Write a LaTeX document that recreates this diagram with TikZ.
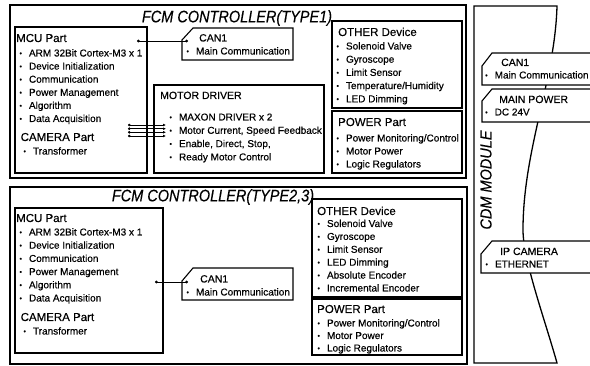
\documentclass[tikz,border=0pt]{standalone}
\usepackage{fontspec}
\setmainfont{Liberation Sans}[FakeBold=0.35]
\usetikzlibrary{arrows.meta,fit}
\newcommand\bu{\makebox[9.5pt][l]{\fontsize{7}{7}\selectfont\raisebox{0.8pt}{•}}}
\newcommand\mylist[5]{\foreach \t [count=\i] in {#5} {\node[itm] (#1\i) at (#2,{#3+#4*(\i-1)}) {\bu\t};}}
\begin{document}
\begin{tikzpicture}[x=1pt,y=-1pt,
  box/.style={draw=black,line width=1.3pt,inner sep=0pt},
  tagbox/.style={draw=black,line width=1.1pt,fill=white,line join=miter},
  itm/.style={anchor=base west,inner sep=0pt,font=\fontsize{10}{12}\selectfont},
  hd/.style={anchor=base west,inner sep=0pt,font=\fontsize{11.5}{13}\selectfont},
  thd/.style={anchor=base west,inner sep=0pt,font=\fontsize{10.5}{12}\selectfont},
  ttl/.style={inner sep=0pt,font=\fontsize{14.5}{16}\selectfont\itshape},
  conn/.style={line width=0.7pt,{Circle[length=2.8pt]}-{Circle[length=2.8pt]}},
  bus/.style={line width=0.7pt,{Circle[length=2.6pt]}-{Latex[length=3pt,width=2.8pt]}}]
\useasboundingbox[fill=white] (0,0) rectangle (590,366);

% ---------- TYPE 1 ----------
\node[box,fit={(10,5) (466,178)}] (outA) {};
\node[ttl] (ttlA) at (237,18) {\scalebox{1}[1.15]{FCM CONTROLLER(TYPE1)}};

\node[box,fit={(15,27) (147,173)}] (mcuA) {};
\node[hd] (mcuAh) at (16,42) {MCU Part};
\mylist{mcuAi}{19.3}{56.5}{13.1}{ARM 32Bit Cortex-M3 x 1, Device Initialization, Communication, Power Management, Algorithm, Data Acquisition}
\node[hd] (camAh) at (20.5,141) {CAMERA Part};
\node[itm] (camAi) at (23.3,154.5) {\bu Transformer};

\draw[tagbox] (182,60) -- (182,40) -- (193,28) -- (293,28) -- (293,60) -- cycle;
\node[thd] (canAh) at (199,41.5) {CAN1};
\node[itm] (canAi) at (186.3,54.5) {\bu Main Communication};
\coordinate (a1) at (137,41);
\coordinate (a2) at (188,41);
\draw[conn] (a2) -- (a1);

\node[box,fit={(154,85) (324,173)}] (motA) {};
\node[thd] (motAh) at (160,99) {MOTOR DRIVER};
\mylist{motAi}{169.3}{120.5}{13.3}{MAXON DRIVER x 2, {Motor Current, Speed Feedback}, {Enable, Direct, Stop,}, Ready Motor Control}
\foreach \yy [count=\k] in {125,128.7,132.3,136} {
  \coordinate (bl\k) at (128,\yy);
  \coordinate (br\k) at (166,\yy);
  \draw[bus] (bl\k) -- (br\k);
}

\node[box,fit={(332,21) (462,108)}] (othA) {};
\node[hd] (othAh) at (338,36) {OTHER Device};
\mylist{othAi}{336.3}{49.5}{13.2}{Solenoid Valve, Gyroscope, Limit Sensor, Temperature/Humidity, LED Dimming}

\node[box,fit={(332,111) (462,173)}] (powA) {};
\node[hd] (powAh) at (338,126) {POWER Part};
\mylist{powAi}{336.3}{141.5}{13}{Power Monitoring/Control, Motor Power, Logic Regulators}

% ---------- TYPE 2,3 ----------
\node[box,fit={(10,187) (467,364)}] (outB) {};
\node[ttl] (ttlB) at (213,197) {\scalebox{1}[1.15]{FCM CONTROLLER(TYPE2,3)}};

\node[box,fit={(15,208) (163,353)}] (mcuB) {};
\node[hd] (mcuBh) at (16,222) {MCU Part};
\mylist{mcuBi}{19.3}{235.5}{13.2}{ARM 32Bit Cortex-M3 x 1, Device Initialization, Communication, Power Management, Algorithm, Data Acquisition}
\node[hd] (camBh) at (20.5,321) {CAMERA Part};
\node[itm] (camBi) at (23.3,334.5) {\bu Transformer};

\draw[tagbox] (182,300) -- (182,281) -- (193,268) -- (293,268) -- (293,300) -- cycle;
\node[thd] (canBh) at (200,282.5) {CAN1};
\node[itm] (canBi) at (186.3,295.5) {\bu Main Communication};
\coordinate (b1) at (155,282);
\coordinate (b2) at (188,282);
\draw[conn] (b2) -- (b1);

\node[box,fit={(312,199) (462,297)}] (othB) {};
\node[hd] (othBh) at (317,215) {OTHER Device};
\mylist{othBi}{317.3}{227}{12.9}{Solenoid Valve, Gyroscope, Limit Sensor, LED Dimming, Absolute Encoder, Incremental Encoder}

\node[box,fit={(312,299) (462,355)}] (powB) {};
\node[hd] (powBh) at (317,313) {POWER Part};
\mylist{powBi}{317.3}{326.5}{12.5}{Power Monitoring/Control, Motor Power, Logic Regulators}

% ---------- CDM MODULE ----------
\draw[line width=1.3pt,line join=miter] (557,6) -- (474,6) -- (474,363) -- (557,363)
  .. controls (545,320) and (523,260) .. (523,230)
  .. controls (523,150) and (555,80) .. (557,6) -- cycle;
\node[ttl,rotate=90] (cdm) at (486,180) {\scalebox{1}[1.1]{CDM MODULE}};

\draw[tagbox] (596,85) -- (482,85) -- (482,66) -- (492,53) -- (596,53);
\node[thd] (cdmCh) at (501,66) {CAN1};
\node[itm] (cdmCi) at (485,78.5) {\bu Main Communication};

\draw[tagbox] (596,122) -- (482,122) -- (482,101) -- (492,89) -- (596,89);
\node[thd] (cdmPh) at (499,103) {MAIN POWER};
\node[itm] (cdmPi) at (485,115.5) {\bu DC 24V};

\draw[tagbox] (596,273) -- (481,273) -- (481,254) -- (492,241) -- (596,241);
\node[thd] (cdmIh) at (500,255) {IP CAMERA};
\node[itm] (cdmIi) at (485.3,267.5) {\bu ETHERNET};
\end{tikzpicture}
\end{document}
